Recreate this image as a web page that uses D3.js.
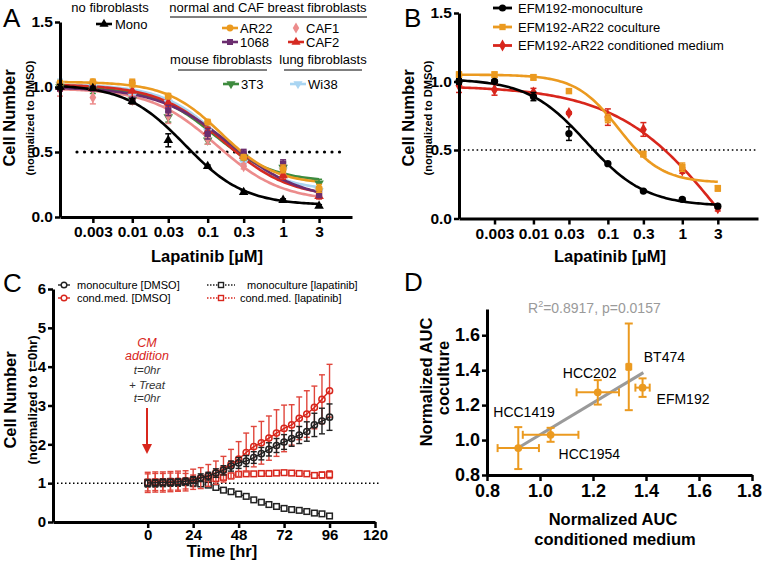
<!DOCTYPE html>
<html>
<head>
<meta charset="utf-8">
<script src="https://cdn.jsdelivr.net/npm/d3@7"></script>
<style>
body { margin: 0; background: #fff; }
svg { font-family: "Liberation Sans", Arial, sans-serif; }
</style>
</head>
<body>
<svg width="762" height="562"></svg>
<script>
// ---------- panel A : lapatinib dose response, fibroblast co-cultures ----------
const concA = [0.0011, 0.003, 0.01, 0.03, 0.1, 0.3, 1, 3]
const ticksDose = [0.003, 0.01, 0.03, 0.1, 0.3, 1, 3]
const monoA = [1.0, 0.99, 0.89, 0.59, 0.39, 0.19, 0.13, 0.085]
const ar22A = [1.03, 1.04, 1.03, 0.93, 0.73, 0.46, 0.37, 0.22]
const f1068A = [1.0, 1.0, 0.9, 0.82, 0.64, 0.49, 0.41, 0.18]
const caf1A = [0.98, 0.92, 0.9, 0.78, 0.6, 0.39, 0.33, 0.17]
const caf2A = [1.0, 1.0, 0.97, 0.88, 0.66, 0.47, 0.32, 0.16]
const t3t3A = [1.0, 0.98, 0.9, 0.77, 0.59, 0.46, 0.38, 0.26]
const wi38A = [1.02, 1.0, 0.93, 0.88, 0.66, 0.42, 0.36, 0.2]
const monoErrA = [0.02, 0.01, 0.02, 0.05, 0.01, 0.01, 0.01, 0.01]
const ar22ErrA = [0.02, 0.02, 0.03, 0.02, 0.02, 0.02, 0.03, 0.03]
const f1068ErrA = [0.03, 0.03, 0.02, 0.04, 0.04, 0.03, 0.03, 0.03]
const caf1ErrA = [0.05, 0.05, 0.03, 0.06, 0.04, 0.02, 0.03, 0.03]
const caf2ErrA = [0.03, 0.03, 0.08, 0.03, 0.03, 0.02, 0.03, 0.02]
const t3t3ErrA = [0.03, 0.03, 0.02, 0.04, 0.03, 0.02, 0.04, 0.03]
const wi38ErrA = [0.04, 0.03, 0.02, 0.03, 0.03, 0.02, 0.03, 0.03]
// fitted curves: top, bottom, EC50, hill
const monoFitA = [1.02, 0.09, 0.05, 1.1]
const ar22FitA = [1.04, 0.25, 0.15, 1.2]
const f1068FitA = [1.0, 0.12, 0.2, 0.9]
const caf1FitA = [0.99, 0.12, 0.13, 1.0]
const caf2FitA = [1.02, 0.15, 0.16, 1.0]
const t3t3FitA = [1.0, 0.27, 0.12, 1.1]
const wi38FitA = [1.02, 0.2, 0.15, 1.1]

// ---------- panel B : EFM192 ----------
const concB = [0.001, 0.003, 0.01, 0.03, 0.1, 0.3, 1, 3]
const monoB = [1.0, 1.0, 0.89, 0.62, 0.40, 0.20, 0.14, 0.09]
const cocultB = [1.05, 1.05, 1.03, 0.93, 0.73, 0.47, 0.375, 0.22]
const condB = [0.97, 0.94, 0.92, 0.77, 0.74, 0.65, 0.35, 0.075]
const monoErrB = [0.02, 0.01, 0.03, 0.05, 0.01, 0.01, 0.01, 0.01]
const cocultErrB = [0.02, 0.02, 0.02, 0.01, 0.03, 0.02, 0.03, 0.02]
const condErrB = [0.05, 0.04, 0.03, 0.01, 0.06, 0.05, 0.02, 0.02]
const monoFitB = [1.02, 0.09, 0.052, 1.1]
const cocultFitB = [1.05, 0.26, 0.14, 1.5]
const condFitB = [0.97, -1.0, 4, 0.6]

// ---------- panel C : growth over time ----------
const timesC = [0, 4, 8, 12, 16, 20, 24, 28, 32, 36, 40, 44, 48, 52, 56, 60, 64, 68, 72, 76, 80, 84, 88, 92, 96]
const monoDmso = [1.0, 1.01, 1.02, 1.02, 1.03, 1.05, 1.08, 1.14, 1.18, 1.26, 1.33, 1.44, 1.52, 1.57, 1.66, 1.76, 1.87, 1.97, 2.06, 2.15, 2.24, 2.33, 2.5, 2.6, 2.7]
const monoDmsoErr = [0.08, 0.08, 0.08, 0.08, 0.08, 0.08, 0.09, 0.1, 0.1, 0.11, 0.12, 0.13, 0.14, 0.14, 0.15, 0.16, 0.17, 0.18, 0.19, 0.2, 0.22, 0.25, 0.3, 0.33, 0.34]
const condDmso = [1.02, 1.03, 1.03, 1.04, 1.05, 1.06, 1.1, 1.13, 1.2, 1.27, 1.36, 1.49, 1.62, 1.79, 1.94, 2.04, 2.16, 2.29, 2.41, 2.5, 2.67, 2.78, 2.95, 3.16, 3.38]
const condDmsoErr = [0.26, 0.26, 0.26, 0.26, 0.26, 0.26, 0.26, 0.27, 0.28, 0.3, 0.33, 0.38, 0.45, 0.5, 0.52, 0.55, 0.57, 0.6, 0.6, 0.52, 0.55, 0.6, 0.55, 0.63, 0.68]
const monoLap = [1.0, 1.0, 1.01, 1.02, 1.02, 1.02, 1.0, 0.98, 0.95, 0.89, 0.82, 0.78, 0.72, 0.66, 0.57, 0.51, 0.45, 0.4, 0.35, 0.32, 0.3, 0.27, 0.23, 0.21, 0.155]
const monoLapErr = [0.1, 0.1, 0.1, 0.1, 0.1, 0.08, 0.06, 0.05, 0.04, 0.04, 0.04, 0.04, 0.03, 0.03, 0.03, 0.03, 0.03, 0.02, 0.02, 0.02, 0.02, 0.02, 0.02, 0.02, 0.02]
const condLap = [1.02, 1.03, 1.03, 1.04, 1.04, 1.05, 1.06, 1.08, 1.1, 1.12, 1.15, 1.19, 1.23, 1.24, 1.24, 1.25, 1.25, 1.26, 1.27, 1.26, 1.25, 1.24, 1.2, 1.21, 1.22]
const condLapErr = [0.22, 0.22, 0.22, 0.22, 0.22, 0.2, 0.15, 0.12, 0.1, 0.08, 0.06, 0.05, 0.05, 0.04, 0.04, 0.04, 0.05, 0.05, 0.05, 0.05, 0.04, 0.05, 0.06, 0.08, 0.1]

// ---------- panel D : AUC scatter ----------
const linesD = ["HCC1419", "HCC1954", "HCC202", "BT474", "EFM192"]
const cmD = [0.918, 1.04, 1.218, 1.335, 1.387]
const cmErrD = [0.078, 0.105, 0.08, 0.006, 0.027]
const coD = [0.954, 1.03, 1.273, 1.419, 1.30]
const coErrD = [0.12, 0.04, 0.07, 0.248, 0.053]
const regD = [0.118, 0.912]   // intercept, slope
const regRangeD = [0.92, 1.39]

const svg = d3.select("svg")
const orange = "#eb9a20", red = "#d8261c"

function fit(p) { return c => p[1] + (p[0] - p[1]) / (1 + Math.pow(c / p[2], p[3])) }

function styleAxis(g, fs) {
  g.select(".domain").attr("stroke-width", 3).attr("stroke", "#000")
  g.selectAll(".tick line").attr("stroke-width", 2.5)
  g.selectAll(".tick text").attr("font-size", fs).attr("font-weight", "bold")
    .attr("font-family", "'Liberation Sans', Arial, sans-serif").attr("fill", "#000")
}

function sym(g, type, x, y, size, color, rot) {
  g.append("path").attr("d", d3.symbol(type, size)())
    .attr("transform", `translate(${x},${y}) rotate(${rot || 0})`)
    .attr("fill", color)
}

function vErr(g, x, y0, y1, cap, color, w) {
  g.append("line").attr("x1", x).attr("x2", x).attr("y1", y0).attr("y2", y1).attr("stroke", color).attr("stroke-width", w)
  g.append("line").attr("x1", x - cap).attr("x2", x + cap).attr("y1", y0).attr("y2", y0).attr("stroke", color).attr("stroke-width", w)
  g.append("line").attr("x1", x - cap).attr("x2", x + cap).attr("y1", y1).attr("y2", y1).attr("stroke", color).attr("stroke-width", w)
}

function text(g, s, x, y, size, opt) {
  opt = opt || {}
  return g.append("text").attr("x", x).attr("y", y).attr("font-size", size)
    .attr("font-weight", opt.bold ? "bold" : "normal").attr("font-style", opt.italic ? "italic" : "normal")
    .attr("text-anchor", opt.anchor || "start").attr("fill", opt.fill || "#000").text(s)
}

function vText(g, s, x, y, size, bold) {
  g.append("text").attr("transform", `translate(${x},${y}) rotate(-90)`).attr("text-anchor", "middle")
    .attr("font-size", size).attr("font-weight", bold ? "bold" : "normal").text(s)
}

function doseCurve(g, x, y, conc, fitP, color) {
  const lo = Math.log10(conc[0]), hi = Math.log10(3)
  const pts = d3.range(0, 121).map(i => Math.pow(10, lo + (hi - lo) * i / 120))
  const f = fit(fitP)
  g.append("path").datum(pts).attr("fill", "none").attr("stroke", color).attr("stroke-width", 2.6)
    .attr("d", d3.line().x(c => x(c)).y(c => y(f(c))))
}

function dosePoints(g, x, y, conc, vals, errs, color, type, size, rot) {
  vals.forEach((v, i) => {
    vErr(g, x(conc[i]), y(v - errs[i]), y(v + errs[i]), 3, color, 1.5)
    sym(g, type, x(conc[i]), y(v), size, color, rot)
  })
}

const doseFmt = d => String(d)

// ================= Panel A =================
{
  const g = svg.append("g")
  const x = d3.scaleLog().domain([0.0011, 8.2]).range([60, 352])
  const y = d3.scaleLinear().domain([0, 1.5]).range([217, 22])
  g.append("line").attr("x1", 77).attr("x2", 347).attr("y1", y(0.5)).attr("y2", y(0.5))
    .attr("stroke", "#000").attr("stroke-width", 3.2).attr("stroke-linecap", "round").attr("stroke-dasharray", "0 7.5")
  const series = [
    [wi38A, wi38ErrA, wi38FitA, "#a9d5f2", d3.symbolTriangle, 180],
    [t3t3A, t3t3ErrA, t3t3FitA, "#3e8b3e", d3.symbolTriangle, 180],
    [caf1A, caf1ErrA, caf1FitA, "#ec8c8c", d3.symbolDiamond, 0],
    [caf2A, caf2ErrA, caf2FitA, "#d52a22", d3.symbolTriangle, 0],
    [f1068A, f1068ErrA, f1068FitA, "#6b2d6f", d3.symbolSquare, 0],
    [ar22A, ar22ErrA, ar22FitA, orange, d3.symbolCircle, 0],
    [monoA, monoErrA, monoFitA, "#000", d3.symbolTriangle, 0]
  ]
  series.forEach(s => doseCurve(g, x, y, concA, s[2], s[3]))
  series.forEach(s => dosePoints(g, x, y, concA, s[0], s[1], s[3], s[4], 40, s[5]))
  const ay = g.append("g").attr("transform", "translate(60,0)")
    .call(d3.axisLeft(y).tickValues([0, 0.5, 1, 1.5]).tickFormat(d3.format(".1f")).tickSize(5).tickSizeOuter(0).tickPadding(2))
  styleAxis(ay, 15.5)
  const ax = g.append("g").attr("transform", "translate(0,217)")
    .call(d3.axisBottom(x).tickValues(ticksDose).tickFormat(doseFmt).tickSize(6).tickSizeOuter(0).tickPadding(3))
  styleAxis(ax, 15.5)
  text(g, "Lapatinib [µM]", 207, 262, 16.5, { bold: true, anchor: "middle" })
  vText(g, "Cell Number", 15, 118, 16.5, true)
  vText(g, "(normalized to DMSO)", 34, 118, 11, true)
  text(g, "A", 3, 27, 26)

  // legend
  text(g, "no fibroblasts", 110, 12, 13, { anchor: "middle" })
  text(g, "normal and CAF breast fibroblasts", 268, 12, 13, { anchor: "middle" })
  g.append("line").attr("x1", 170).attr("x2", 367).attr("y1", 17).attr("y2", 17).attr("stroke", "#000").attr("stroke-width", 1)
  text(g, "mouse fibroblasts", 221, 64, 13, { anchor: "middle" })
  g.append("line").attr("x1", 178).attr("x2", 267).attr("y1", 70).attr("y2", 70).attr("stroke", "#000").attr("stroke-width", 1)
  text(g, "lung fibroblasts", 323, 64, 13, { anchor: "middle" })
  g.append("line").attr("x1", 284).attr("x2", 362).attr("y1", 70).attr("y2", 70).attr("stroke", "#000").attr("stroke-width", 1)
  const leg = [
    ["Mono", 96, 24, "#000", d3.symbolTriangle, 0],
    ["AR22", 222, 28, orange, d3.symbolCircle, 0],
    ["1068", 222, 42, "#6b2d6f", d3.symbolSquare, 0],
    ["CAF1", 288, 28, "#ec8c8c", d3.symbolDiamond, 0],
    ["CAF2", 288, 42, "#d52a22", d3.symbolTriangle, 0],
    ["3T3", 223, 84, "#3e8b3e", d3.symbolTriangle, 180],
    ["Wi38", 290, 84, "#a9d5f2", d3.symbolTriangle, 180]
  ]
  leg.forEach(l => {
    if (l[0] !== "CAF1")
      g.append("line").attr("x1", l[1]).attr("x2", l[1] + 16).attr("y1", l[2]).attr("y2", l[2]).attr("stroke", l[3]).attr("stroke-width", 2.6)
    sym(g, l[4], l[1] + 8, l[2], 36, l[3], l[5])
    text(g, l[0], l[1] + (l[0] === "Mono" ? 19 : 18), l[2] + 4.5, 13)
  })
}

// ================= Panel B =================
{
  const g = svg.append("g")
  const x = d3.scaleLog().domain([0.001, 10.4]).range([459, 758])
  const y = d3.scaleLinear().domain([0, 1.5]).range([218.5, 13])
  g.append("line").attr("x1", 459).attr("x2", 758).attr("y1", y(0.5)).attr("y2", y(0.5))
    .attr("stroke", "#000").attr("stroke-width", 1.6).attr("stroke-dasharray", "1.6 2.8")
  const series = [
    [condB, condErrB, condFitB, red, d3.symbolDiamond],
    [cocultB, cocultErrB, cocultFitB, orange, d3.symbolSquare],
    [monoB, monoErrB, monoFitB, "#000", d3.symbolCircle]
  ]
  series.forEach(s => doseCurve(g, x, y, concB, s[2], s[3]))
  series.forEach(s => dosePoints(g, x, y, concB, s[0], s[1], s[3], s[4], 42, 0))
  const ay = g.append("g").attr("transform", "translate(459,0)")
    .call(d3.axisLeft(y).tickValues([0, 0.5, 1, 1.5]).tickFormat(d3.format(".1f")).tickSize(5).tickSizeOuter(0).tickPadding(2))
  styleAxis(ay, 15.5)
  const ax = g.append("g").attr("transform", "translate(0,218.5)")
    .call(d3.axisBottom(x).tickValues(ticksDose).tickFormat(doseFmt).tickSize(6).tickSizeOuter(0).tickPadding(3))
  styleAxis(ax, 15.5)
  text(g, "Lapatinib [µM]", 610, 262, 16.5, { bold: true, anchor: "middle" })
  vText(g, "Cell Number", 414, 118, 16.5, true)
  vText(g, "(normalized to DMSO)", 432, 118, 11, true)
  text(g, "B", 404, 27, 26)
  const leg = [
    ["EFM192-monoculture", 8, "#000", d3.symbolCircle],
    ["EFM192-AR22 coculture", 27, orange, d3.symbolSquare],
    ["EFM192-AR22 conditioned medium", 45.5, red, d3.symbolDiamond]
  ]
  leg.forEach(l => {
    g.append("line").attr("x1", 493).attr("x2", 512).attr("y1", l[1]).attr("y2", l[1]).attr("stroke", l[2]).attr("stroke-width", 2.8)
    sym(g, l[3], 502.5, l[1], 40, l[2], 0)
    text(g, l[0], 518, l[1] + 4.5, 13)
  })
}

// ================= Panel C =================
{
  const g = svg.append("g")
  const x = d3.scaleLinear().domain([-50, 120]).range([53, 375])
  const y = d3.scaleLinear().domain([0, 6]).range([522, 289])
  g.append("line").attr("x1", 53).attr("x2", 380).attr("y1", y(1)).attr("y2", y(1))
    .attr("stroke", "#000").attr("stroke-width", 1.5).attr("stroke-dasharray", "1.5 2.5")
  const series = [
    [condLap, condLapErr, red, "sq", "1.5 1.5"],
    [monoLap, monoLapErr, "#222", "sq", "1.5 1.5"],
    [condDmso, condDmsoErr, red, "ci", null],
    [monoDmso, monoDmsoErr, "#222", "ci", null]
  ]
  series.forEach(s => {
    s[0].forEach((v, i) => {
      const c = s[2] === red ? "#e0463c" : "#222"
      vErr(g, x(timesC[i]), y(v - s[1][i]), y(v + s[1][i]), 3, c, 1.4)
    })
    g.append("path").datum(s[0]).attr("fill", "none").attr("stroke", s[2]).attr("stroke-width", 1.4)
      .attr("stroke-dasharray", s[4])
      .attr("d", d3.line().x((v, i) => x(timesC[i])).y(v => y(v)))
    s[0].forEach((v, i) => {
      if (s[3] === "sq")
        g.append("rect").attr("x", x(timesC[i]) - 2.8).attr("y", y(v) - 2.8).attr("width", 5.6).attr("height", 5.6)
          .attr("fill", "#fff").attr("stroke", s[2]).attr("stroke-width", 1.5)
      else
        g.append("circle").attr("cx", x(timesC[i])).attr("cy", y(v)).attr("r", 3.1)
          .attr("fill", "none").attr("stroke", s[2]).attr("stroke-width", 1.5)
    })
  })
  const ay = g.append("g").attr("transform", "translate(53,0)")
    .call(d3.axisLeft(y).tickValues([0, 1, 2, 3, 4, 5, 6]).tickFormat(d3.format("d")).tickSize(5).tickSizeOuter(0).tickPadding(2))
  styleAxis(ay, 15)
  const ax = g.append("g").attr("transform", "translate(0,522)")
    .call(d3.axisBottom(x).tickValues([0, 24, 48, 72, 96, 120]).tickFormat(d3.format("d")).tickSize(6).tickSizeOuter(0).tickPadding(1))
  styleAxis(ax, 15)
  text(g, "Time [hr]", 222, 557, 16.5, { bold: true, anchor: "middle" })
  vText(g, "Cell Number", 16, 400, 16.5, true)
  vText(g, "(normalized to t=0hr)", 37, 400, 13, true)
  text(g, "C", 3, 292, 26)

  // annotation
  text(g, "CM", 147, 347, 12.5, { italic: true, anchor: "middle", fill: red })
  text(g, "addition", 147, 360, 12.5, { italic: true, anchor: "middle", fill: red })
  text(g, "t=0hr", 147, 374, 11.5, { italic: true, anchor: "middle", fill: "#333" })
  text(g, "+ Treat", 147, 389, 11.5, { italic: true, anchor: "middle", fill: "#333" })
  text(g, "t=0hr", 147, 402, 11.5, { italic: true, anchor: "middle", fill: "#333" })
  g.append("line").attr("x1", 147).attr("x2", 147).attr("y1", 408).attr("y2", 445).attr("stroke", red).attr("stroke-width", 2)
  g.append("path").attr("d", "M142,444 L152,444 L147,454 Z").attr("fill", red)

  // legend
  const leg = [
    ["monoculture [DMSO]", 58, 285, "#222", "ci", 77],
    ["cond.med. [DMSO]", 58, 298, red, "ci", 77],
    ["monoculture [lapatinib]", 207, 285, "#222", "sq", 247],
    ["cond.med. [lapatinib]", 207, 298, red, "sq", 240]
  ]
  leg.forEach(l => {
    const w = l[4] === "ci" ? 12 : 28
    g.append("line").attr("x1", l[1]).attr("x2", l[1] + w).attr("y1", l[2]).attr("y2", l[2])
      .attr("stroke", l[3]).attr("stroke-width", 1.4).attr("stroke-dasharray", l[4] === "sq" ? "1.5 1.5" : null)
    if (l[4] === "sq")
      g.append("rect").attr("x", l[1] + w / 2 - 2.5).attr("y", l[2] - 2.5).attr("width", 5).attr("height", 5)
        .attr("fill", "#fff").attr("stroke", l[3]).attr("stroke-width", 1.4)
    else
      g.append("circle").attr("cx", l[1] + w / 2).attr("cy", l[2]).attr("r", 2.8).attr("fill", "#fff")
        .attr("stroke", l[3]).attr("stroke-width", 1.4)
    text(g, l[0], l[5], l[2] + 4, 11)
  })
}

// ================= Panel D =================
{
  const g = svg.append("g")
  const x = d3.scaleLinear().domain([0.8, 1.8]).range([487, 752])
  const y = d3.scaleLinear().domain([0.8, 1.75]).range([475, 309])
  g.append("line").attr("x1", x(regRangeD[0])).attr("x2", x(regRangeD[1]))
    .attr("y1", y(regD[0] + regD[1] * regRangeD[0])).attr("y2", y(regD[0] + regD[1] * regRangeD[1]))
    .attr("stroke", "#9a9a9a").attr("stroke-width", 3)
  const offs = [[-25, -31], [8, 24], [-35, -14], [15, -5], [14, 16]]
  linesD.forEach((name, i) => {
    const cx = x(cmD[i]), cy = y(coD[i])
    vErr(g, cx, y(coD[i] - coErrD[i]), y(coD[i] + coErrD[i]), 4, orange, 2)
    const xl = x(cmD[i] - cmErrD[i]), xr = x(cmD[i] + cmErrD[i])
    g.append("line").attr("x1", xl).attr("x2", xr).attr("y1", cy).attr("y2", cy).attr("stroke", orange).attr("stroke-width", 2)
    g.append("line").attr("x1", xl).attr("x2", xl).attr("y1", cy - 4).attr("y2", cy + 4).attr("stroke", orange).attr("stroke-width", 2)
    g.append("line").attr("x1", xr).attr("x2", xr).attr("y1", cy - 4).attr("y2", cy + 4).attr("stroke", orange).attr("stroke-width", 2)
    sym(g, name === "BT474" ? d3.symbolSquare : d3.symbolCircle, cx, cy, 48, orange, 0)
    text(g, name, cx + offs[i][0], cy + offs[i][1], 14)
  })
  const ay = g.append("g").attr("transform", "translate(487,0)")
    .call(d3.axisLeft(y).tickValues([0.8, 1.0, 1.2, 1.4, 1.6]).tickFormat(d3.format(".1f")).tickSize(5).tickSizeOuter(0).tickPadding(2))
  styleAxis(ay, 18)
  const ax = g.append("g").attr("transform", "translate(0,475)")
    .call(d3.axisBottom(x).tickValues([0.8, 1.0, 1.2, 1.4, 1.6, 1.8]).tickFormat(d3.format(".1f")).tickSize(6).tickSizeOuter(0).tickPadding(3))
  styleAxis(ax, 18)
  ax.selectAll(".tick text").filter(d => d === 1.8).attr("dx", -3)
  text(g, "Normalized AUC", 613, 525, 16.5, { bold: true, anchor: "middle" })
  text(g, "conditioned medium", 615, 545, 16.5, { bold: true, anchor: "middle" })
  vText(g, "Normalized AUC", 432, 382, 16.5, true)
  vText(g, "coculture", 449, 378, 16.5, true)
  const r = g.append("text").attr("x", 528).attr("y", 313).attr("font-size", 14).attr("fill", "#9a9a9a")
  r.append("tspan").text("R")
  r.append("tspan").attr("font-size", 9).attr("dy", -6).text("2")
  r.append("tspan").attr("dy", 6).text("=0.8917, p=0.0157")
  text(g, "D", 404, 291, 26)
}
</script>
</body>
</html>
